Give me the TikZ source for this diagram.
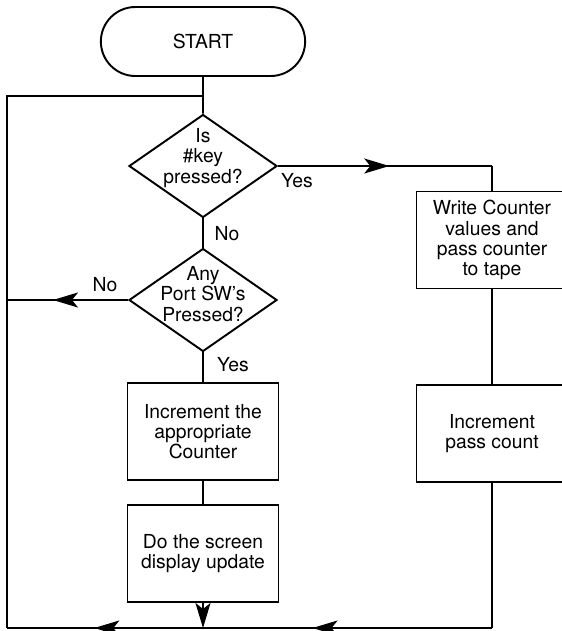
\documentclass[tikz,border=0pt]{standalone}
\usepackage{fontspec}
\setmainfont{TeX Gyre Heros}
\usetikzlibrary{shapes.geometric,shapes.misc,arrows.meta,decorations.markings}

\tikzset{
	flow/.style={line width=1.1pt},
	term/.style={rounded rectangle, draw, flow, minimum width=43.2mm, minimum height=13.8mm},
	decision/.style={diamond, draw, flow, minimum width=29.6mm, minimum height=20.6mm, inner sep=0pt},
	process/.style={rectangle, draw, flow, minimum width=30.2mm, minimum height=19.4mm, align=center},
	midarrow/.style={postaction={decorate, decoration={markings, mark=at position #1 with {\arrow{>}}}}},
}

\begin{document}
\begin{tikzpicture}[x=0.2mm, y=-0.2mm, >={Stealth[length=5mm, width=3mm, inset=1.2mm]},
	font=\fontsize{11}{11.5}\selectfont]
	\clip (0,0) rectangle (562,631);
	\def\xm{203} % main column
	\def\xr{492} % right column
	\def\xl{7} % return line
	\def\yt{96} % top of the loop
	\def\yb{628} % bottom of the loop
	
	% main column
	\node[term] (start) at (\xm,41.5) {START};
	\node[decision, label={[align=center, yshift=1.6mm]center:Is\\\#key\\pressed?}] (key) at (\xm,166) {};
	\node[decision, label={[align=center, yshift=1.2mm]center:Any\\Port SW's\\Pressed?}] (port) at (\xm,300) {};
	\node[process] (incr) at (\xm,431.5) {Increment the\\appropriate\\Counter};
	\node[process] (screen) at (\xm,553.5) {Do the screen\\display update};
	
	% right column
	\node[process] (write) at (\xr,240) {Write Counter\\values and\\pass counter\\to tape};
	\node[process] (pass) at (\xr,433.5) {Increment\\pass count};
	
	% corners of the connectors
	\coordinate (top) at (\xm,\yt);
	\coordinate (topleft) at (\xl,\yt);
	\coordinate (keyright) at (\xr,166);
	\coordinate (portleft) at (\xl,300);
	\coordinate (passdown) at (\xr,\yb);
	\coordinate (screendown) at (\xm,\yb);
	\coordinate (botleft) at (\xl,\yb);
	
	% connectors
	\draw[flow] (start) -- (key);
	\draw[flow] (key) -- (port);
	\draw[flow] (port) -- (incr);
	\draw[flow] (incr) -- (screen);
	\draw[flow,->] (screen) -- (screendown);
	\draw[flow,midarrow=0.52] (key.east) -- (keyright);
	\draw[flow] (keyright) -- (write);
	\draw[flow] (write) -- (pass);
	\draw[flow] (pass) -- (passdown);
	\draw[flow,midarrow=0.37,midarrow=0.82] (passdown) -- (botleft);
	\draw[flow] (botleft) -- (topleft) -- (top);
	\draw[flow,midarrow=0.62] (port.west) -- (portleft);
	
	% branch labels
	\node (keyyes) at (297,181) {Yes};
	\node (keyno) at (227,234) {No};
	\node (portno) at (105,285) {No};
	\node (portyes) at (233,365) {Yes};
\end{tikzpicture}
\end{document}
